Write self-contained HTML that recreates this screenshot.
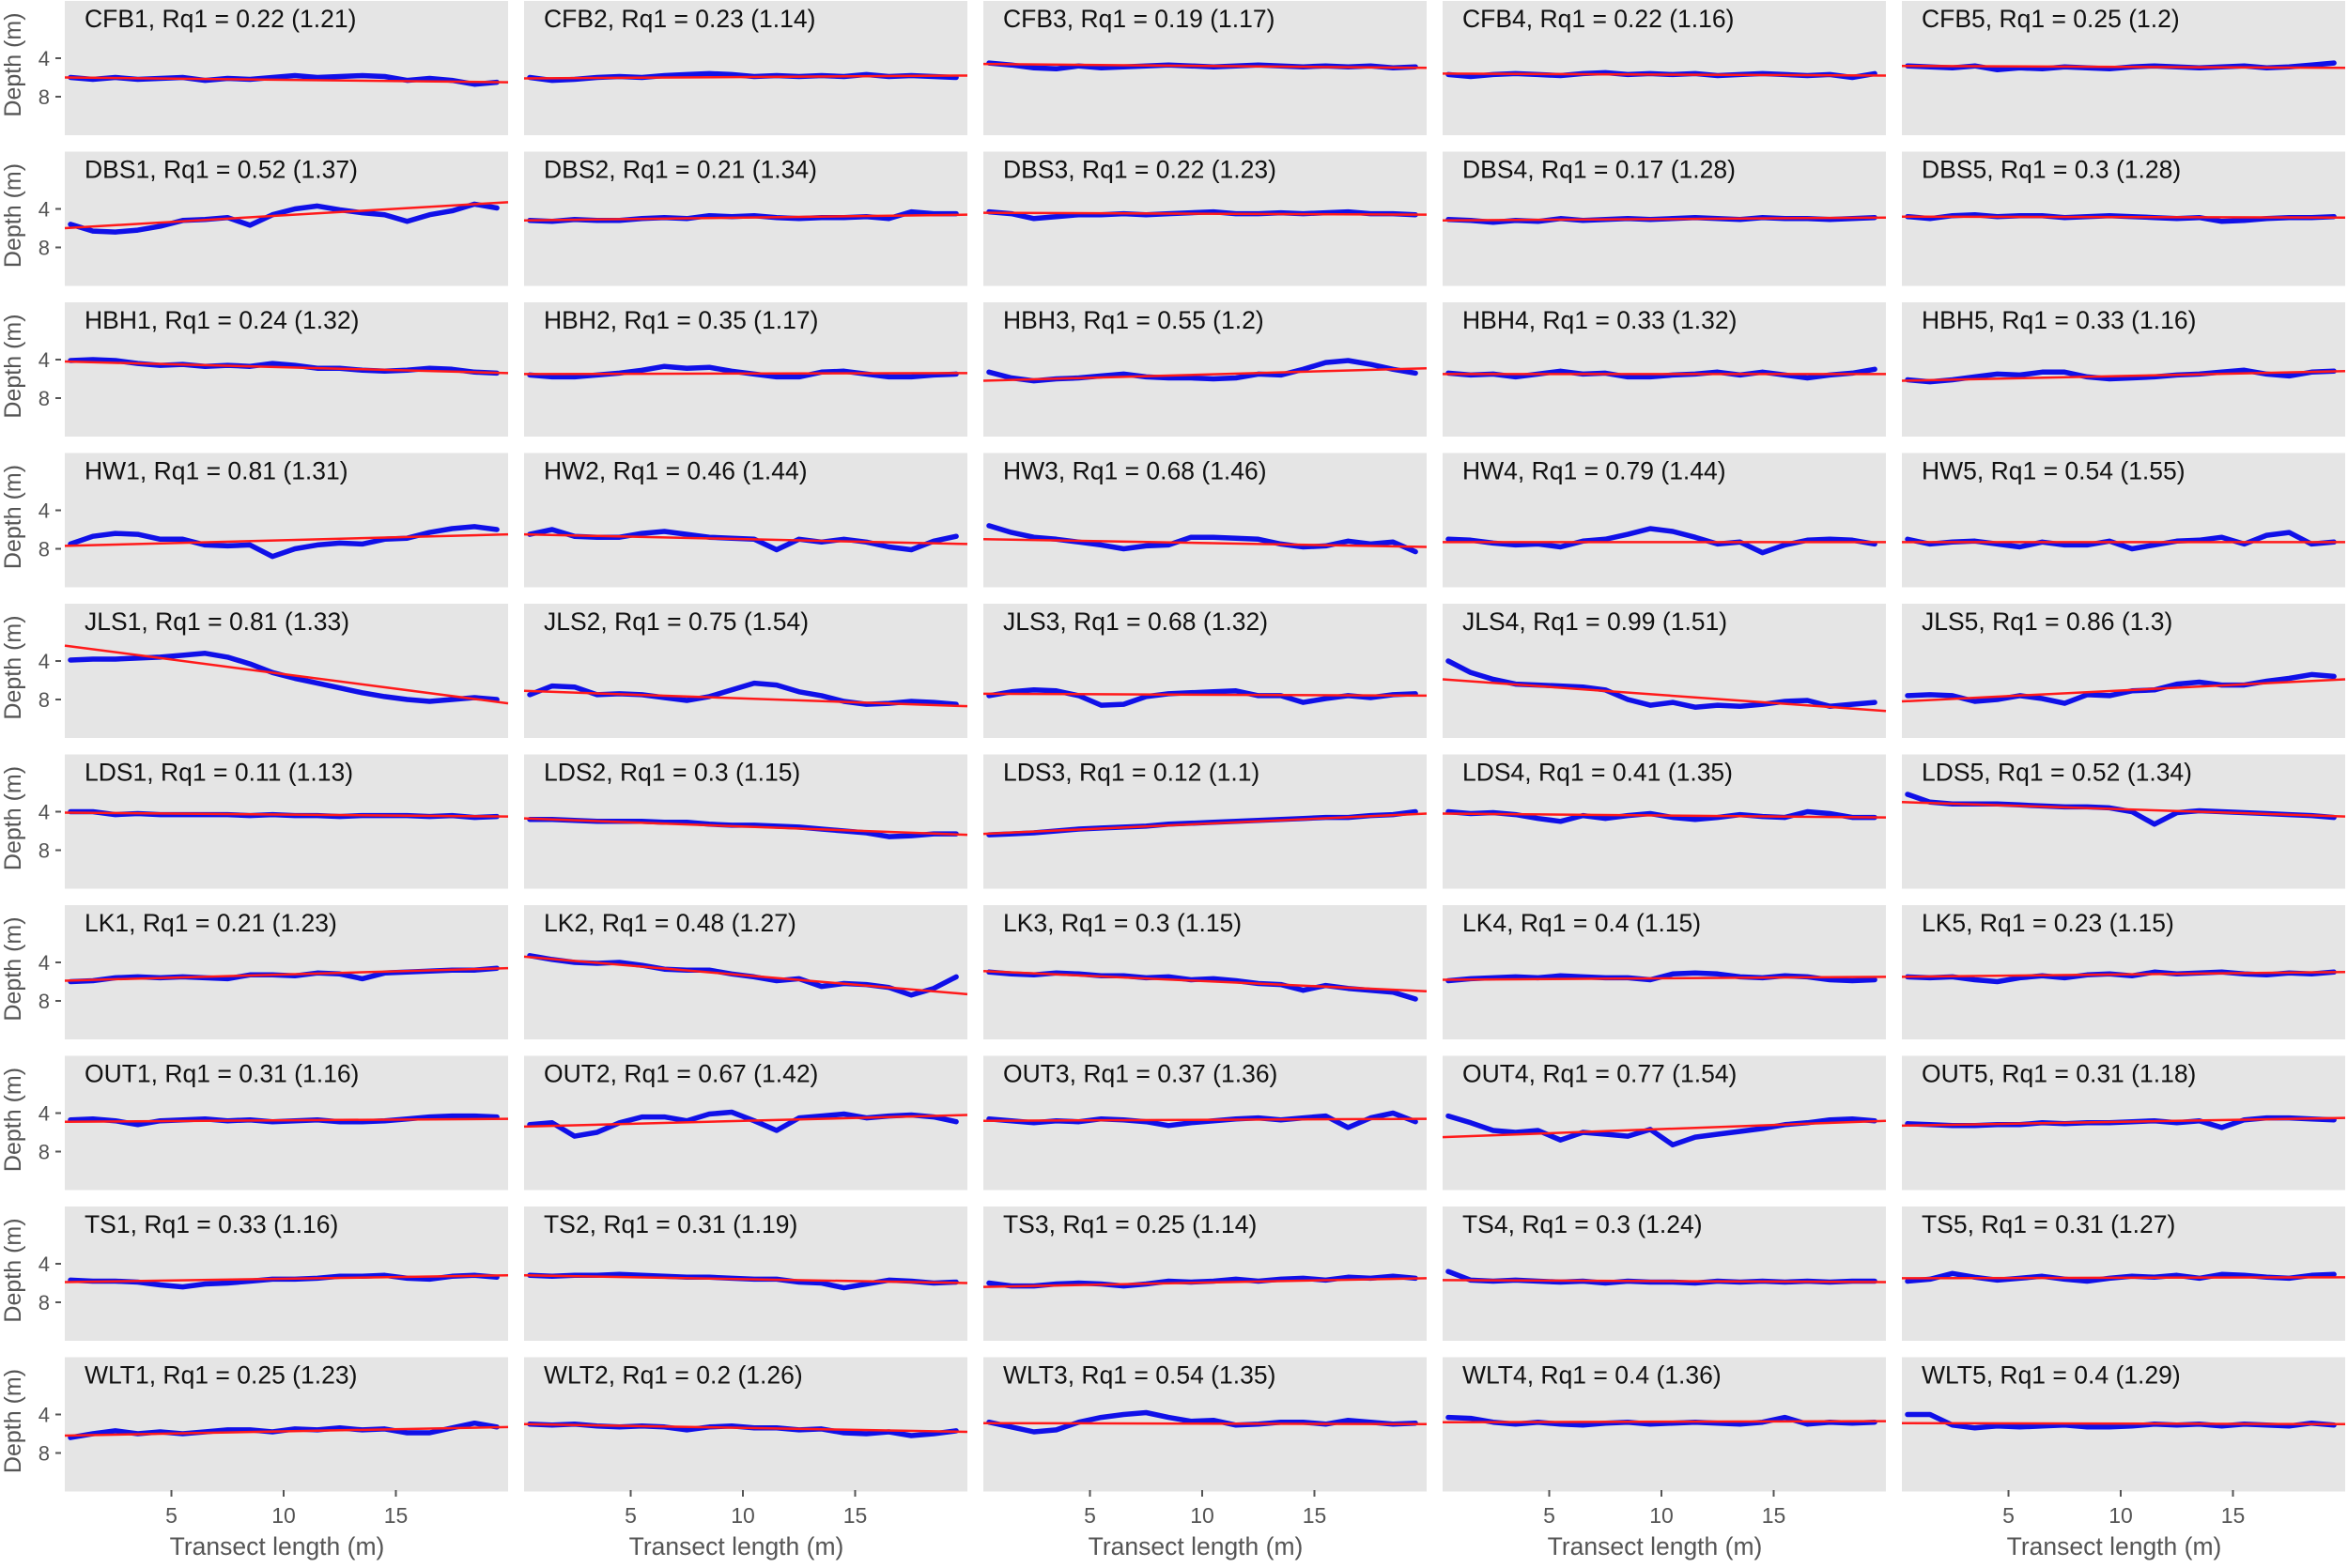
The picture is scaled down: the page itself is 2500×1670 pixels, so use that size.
<!DOCTYPE html>
<html><head><meta charset="utf-8"><style>
html,body{margin:0;padding:0;background:#fff;}
svg{display:block;}
text{font-family:"Liberation Sans","DejaVu Sans",sans-serif;}
</style></head><body>
<svg id="chart" width="2500" height="1670" xmlns="http://www.w3.org/2000/svg"></svg>
<script>
const sites = ["CFB","DBS","HBH","HW","JLS","LDS","LK","OUT","TS","WLT"];
const rq1 = [
 ["0.22 (1.21)","0.23 (1.14)","0.19 (1.17)","0.22 (1.16)","0.25 (1.2)"],
 ["0.52 (1.37)","0.21 (1.34)","0.22 (1.23)","0.17 (1.28)","0.3 (1.28)"],
 ["0.24 (1.32)","0.35 (1.17)","0.55 (1.2)","0.33 (1.32)","0.33 (1.16)"],
 ["0.81 (1.31)","0.46 (1.44)","0.68 (1.46)","0.79 (1.44)","0.54 (1.55)"],
 ["0.81 (1.33)","0.75 (1.54)","0.68 (1.32)","0.99 (1.51)","0.86 (1.3)"],
 ["0.11 (1.13)","0.3 (1.15)","0.12 (1.1)","0.41 (1.35)","0.52 (1.34)"],
 ["0.21 (1.23)","0.48 (1.27)","0.3 (1.15)","0.4 (1.15)","0.23 (1.15)"],
 ["0.31 (1.16)","0.67 (1.42)","0.37 (1.36)","0.77 (1.54)","0.31 (1.18)"],
 ["0.33 (1.16)","0.31 (1.19)","0.25 (1.14)","0.3 (1.24)","0.31 (1.27)"],
 ["0.25 (1.23)","0.2 (1.26)","0.54 (1.35)","0.4 (1.36)","0.4 (1.29)"]
];
const xPositions = [0.5,1.5,2.5,3.5,4.5,5.5,6.5,7.5,8.5,9.5,10.5,11.5,12.5,13.5,14.5,15.5,16.5,17.5,18.5,19.5];
const xTicks = [5,10,15];
const yTicks = [4,8];
const trendStartEnd = [
 [[6.0,6.5],[6.1,5.8],[4.6,5.0],[5.6,5.8],[4.8,5.0]],
 [[6.0,3.3],[5.2,4.6],[4.4,4.6],[5.2,4.9],[4.8,4.9]],
 [[4.2,5.4],[5.5,5.4],[6.2,4.9],[5.5,5.5],[6.2,5.2]],
 [[7.7,6.5],[6.5,7.5],[7.0,7.8],[7.3,7.3],[7.3,7.3]],
 [[2.4,8.4],[7.1,8.7],[7.4,7.6],[5.9,9.2],[8.2,5.9]],
 [[4.1,4.5],[4.7,6.4],[6.3,4.2],[4.2,4.6],[3.0,4.5]],
 [[5.9,4.6],[3.4,7.3],[4.9,7.0],[5.8,5.5],[5.5,5.0]],
 [[4.9,4.6],[5.4,4.2],[4.8,4.6],[6.5,4.8],[5.3,4.5]],
 [[5.9,5.2],[5.2,6.0],[6.4,5.5],[5.7,5.9],[5.5,5.4]],
 [[6.2,5.3],[5.0,5.8],[4.9,5.0],[4.8,4.7],[4.9,5.0]]
];
const cfbDepth = [
 [6,6.2,6,6.2,6.1,6,6.3,6.1,6.2,6.0,5.8,6.0,5.9,5.8,5.9,6.3,6.1,6.3,6.7,6.5],
 [6,6.3,6.2,6,5.9,6,5.8,5.7,5.6,5.7,5.9,5.8,5.9,5.8,5.9,5.7,5.9,5.8,5.9,6.0],
 [4.5,4.7,5,5.1,4.8,5,4.9,4.8,4.7,4.8,4.9,4.8,4.7,4.8,4.9,4.8,4.9,4.8,5,4.9],
 [5.7,5.9,5.7,5.6,5.7,5.8,5.6,5.5,5.7,5.6,5.7,5.6,5.8,5.7,5.6,5.7,5.8,5.7,6.0,5.6],
 [4.8,4.9,5.0,4.8,5.2,5.0,5.1,4.9,5.0,5.1,4.9,4.8,4.9,5.0,4.9,4.8,5.0,4.9,4.7,4.5]];
const dbsDepth = [
 [5.6,6.3,6.4,6.2,5.8,5.2,5.1,4.9,5.7,4.6,4.0,3.7,4.1,4.4,4.6,5.3,4.6,4.2,3.5,3.9],
 [5.2,5.3,5.1,5.2,5.2,5.0,4.9,5.0,4.7,4.8,4.7,4.9,5.0,4.9,4.9,4.8,5.0,4.3,4.5,4.5],
 [4.3,4.5,5.0,4.8,4.6,4.6,4.5,4.6,4.5,4.4,4.3,4.5,4.5,4.4,4.5,4.4,4.3,4.5,4.5,4.6],
 [5.1,5.2,5.4,5.2,5.3,5.0,5.2,5.1,5.0,5.1,5.0,4.9,5.0,5.1,4.9,5.0,5.0,5.1,5.0,4.9],
 [4.8,5.0,4.7,4.6,4.8,4.7,4.7,4.9,4.8,4.7,4.8,4.9,5.0,4.9,5.3,5.2,5.0,4.9,4.9,4.8]];
const hbhDepth = [
 [4.1,4.0,4.1,4.4,4.6,4.5,4.7,4.6,4.7,4.4,4.6,4.9,4.9,5.1,5.2,5.1,4.9,5.0,5.3,5.4],
 [5.6,5.8,5.8,5.6,5.4,5.1,4.7,4.9,4.8,5.2,5.5,5.8,5.8,5.3,5.2,5.5,5.8,5.8,5.6,5.5],
 [5.3,5.9,6.2,6.0,5.9,5.7,5.5,5.8,5.9,5.9,6.0,5.9,5.5,5.6,5.0,4.3,4.1,4.5,5.0,5.4],
 [5.4,5.6,5.5,5.8,5.5,5.2,5.5,5.4,5.8,5.8,5.6,5.5,5.3,5.6,5.3,5.6,5.9,5.6,5.4,5.0],
 [6.1,6.3,6.1,5.8,5.5,5.6,5.3,5.3,5.8,6.0,5.9,5.8,5.6,5.5,5.3,5.1,5.5,5.7,5.3,5.2]];
const hwDepth = [
 [7.5,6.7,6.4,6.5,7.0,7.0,7.6,7.7,7.6,8.8,8.0,7.6,7.4,7.5,7.0,6.9,6.3,5.9,5.7,6.0],
 [6.5,6.0,6.7,6.8,6.8,6.4,6.2,6.5,6.8,6.9,7.0,8.1,7.0,7.3,7.0,7.3,7.8,8.1,7.2,6.7],
 [5.6,6.3,6.8,7.0,7.3,7.6,8.0,7.7,7.6,6.8,6.8,6.9,7.0,7.5,7.8,7.7,7.2,7.5,7.3,8.3],
 [7.0,7.1,7.4,7.6,7.5,7.8,7.2,7.0,6.5,5.9,6.2,6.8,7.5,7.3,8.4,7.6,7.1,7.0,7.1,7.5],
 [7.0,7.5,7.3,7.2,7.5,7.8,7.3,7.6,7.6,7.2,8.0,7.6,7.2,7.1,6.8,7.5,6.6,6.3,7.5,7.3]];
const jlsDepth = [
 [3.9,3.8,3.8,3.7,3.6,3.4,3.2,3.6,4.3,5.2,5.8,6.3,6.8,7.3,7.7,8.0,8.2,8.0,7.8,8.0],
 [7.5,6.6,6.7,7.5,7.4,7.5,7.8,8.1,7.7,7.0,6.3,6.5,7.2,7.6,8.2,8.5,8.4,8.2,8.3,8.5],
 [7.6,7.2,7.0,7.1,7.6,8.6,8.5,7.7,7.4,7.3,7.2,7.1,7.6,7.6,8.3,7.9,7.6,7.8,7.5,7.4],
 [4.0,5.2,5.9,6.4,6.5,6.6,6.7,7.0,8.0,8.6,8.3,8.8,8.6,8.7,8.5,8.2,8.1,8.7,8.5,8.3],
 [7.6,7.5,7.6,8.2,8.0,7.6,7.9,8.4,7.5,7.6,7.1,7.0,6.4,6.2,6.5,6.5,6.1,5.8,5.4,5.6]];
const ldsDepth = [
 [4.0,4.0,4.3,4.2,4.3,4.3,4.3,4.3,4.4,4.3,4.4,4.4,4.5,4.4,4.4,4.4,4.5,4.4,4.6,4.5],
 [4.8,4.8,4.9,5.0,5.0,5.0,5.1,5.1,5.3,5.4,5.4,5.5,5.6,5.8,6.0,6.2,6.6,6.5,6.3,6.3],
 [6.4,6.3,6.2,6.0,5.8,5.7,5.6,5.5,5.3,5.2,5.1,5.0,4.9,4.8,4.7,4.6,4.6,4.4,4.3,4.0],
 [4.0,4.2,4.1,4.3,4.7,5.0,4.4,4.7,4.4,4.2,4.6,4.8,4.6,4.3,4.5,4.6,4.0,4.2,4.6,4.6],
 [2.2,3.0,3.2,3.2,3.2,3.3,3.4,3.5,3.5,3.6,4.0,5.3,4.1,3.9,4.0,4.1,4.2,4.3,4.4,4.6]];
const lkDepth = [
 [6.0,5.9,5.6,5.5,5.6,5.5,5.6,5.7,5.3,5.3,5.4,5.1,5.2,5.7,5.1,5.0,4.9,4.8,4.8,4.6],
 [3.3,3.7,4.0,4.1,4.0,4.3,4.7,4.8,4.8,5.2,5.5,5.9,5.7,6.5,6.2,6.3,6.6,7.4,6.7,5.5],
 [5.0,5.2,5.3,5.1,5.2,5.4,5.4,5.6,5.5,5.8,5.7,5.9,6.2,6.3,6.9,6.4,6.7,6.9,7.1,7.8],
 [5.9,5.7,5.6,5.5,5.6,5.4,5.5,5.6,5.6,5.8,5.2,5.1,5.2,5.5,5.6,5.4,5.5,5.8,5.9,5.8],
 [5.5,5.6,5.5,5.8,6.0,5.6,5.4,5.6,5.3,5.2,5.4,5.0,5.2,5.1,5.0,5.2,5.3,5.1,5.2,5.0]];
const outDepth = [
 [4.7,4.6,4.8,5.2,4.8,4.7,4.6,4.8,4.7,4.9,4.8,4.7,4.9,4.9,4.8,4.6,4.4,4.3,4.3,4.4],
 [5.2,5.0,6.4,6.0,5.0,4.4,4.4,4.8,4.1,3.9,4.8,5.8,4.5,4.3,4.1,4.5,4.3,4.2,4.4,4.9],
 [4.6,4.8,5.0,4.8,4.9,4.6,4.7,4.9,5.3,5.0,4.8,4.6,4.5,4.7,4.5,4.3,5.5,4.5,4.0,4.9],
 [4.3,5.0,5.8,6.0,5.8,6.8,6.0,6.2,6.4,5.7,7.3,6.5,6.2,5.9,5.6,5.2,5.0,4.7,4.6,4.8],
 [5.1,5.2,5.3,5.3,5.2,5.2,5.0,5.1,5.0,5.0,4.9,4.8,5.0,4.8,5.5,4.7,4.5,4.5,4.6,4.7]];
const tsDepth = [
 [5.7,5.8,5.8,5.9,6.2,6.4,6.1,6.0,5.8,5.6,5.6,5.5,5.3,5.3,5.2,5.5,5.6,5.3,5.2,5.4],
 [5.2,5.3,5.2,5.2,5.1,5.2,5.3,5.4,5.4,5.5,5.6,5.6,5.9,6.0,6.5,6.1,5.7,5.8,6.0,5.9],
 [6.0,6.3,6.3,6.1,6.0,6.1,6.3,6.1,5.8,5.9,5.8,5.6,5.8,5.6,5.5,5.7,5.4,5.5,5.3,5.5],
 [4.8,5.7,5.8,5.7,5.8,5.9,5.8,6.0,5.8,5.9,5.9,6.0,5.8,5.9,5.8,5.9,5.8,5.9,5.8,5.8],
 [5.8,5.6,5.0,5.4,5.7,5.5,5.3,5.6,5.8,5.5,5.3,5.4,5.2,5.5,5.1,5.2,5.4,5.5,5.2,5.1]];
const wltDepth = [
 [6.4,6.0,5.7,6.0,5.8,6.0,5.8,5.6,5.6,5.8,5.5,5.6,5.4,5.6,5.5,5.9,5.9,5.4,4.9,5.3],
 [5.0,5.1,5.0,5.2,5.3,5.2,5.3,5.6,5.3,5.2,5.4,5.4,5.6,5.5,5.9,6.0,5.8,6.2,6.0,5.7],
 [4.8,5.3,5.8,5.6,4.8,4.3,4.0,3.8,4.3,4.7,4.6,5.1,5.0,4.8,4.8,5.0,4.6,4.8,5.0,4.9],
 [4.3,4.4,4.8,5.0,4.8,5.0,5.1,4.9,4.8,5.0,4.9,4.8,4.9,5.0,4.8,4.3,5.0,4.8,4.9,4.8],
 [4.0,4.0,5.1,5.4,5.2,5.3,5.2,5.1,5.3,5.3,5.2,5.0,5.1,5.0,5.2,5.0,5.1,5.2,4.9,5.1]];
const depthRows = [cfbDepth,dbsDepth,hbhDepth,hwDepth,jlsDepth,ldsDepth,lkDepth,outDepth,tsDepth,wltDepth];

const NS = "http://www.w3.org/2000/svg";
const svg = document.getElementById('chart');
const colLeft = [69,558,1047,1536,2025];
const panelW = 472, panelH = 143, rowPitch = 160.5;
const xMin = 0.25, xMax = 20;
function xScale(c, x){ return colLeft[c] + (x - xMin) / (xMax - xMin) * panelW; }
function yScale(r, d){ return r*rowPitch + 62 + (d - 4) * 10.25; }
function mk(tag, attrs, parent){
  const e = document.createElementNS(NS, tag);
  for (const k in attrs) e.setAttribute(k, attrs[k]);
  (parent||svg).appendChild(e);
  return e;
}

for (let r = 0; r < 10; r++) {
  const top = r*rowPitch + 1;
  const yt = mk('text', {x:0, y:0, 'font-size':25, fill:'#555', 'text-anchor':'middle',
    transform:`translate(22,${top+68}) rotate(-90)`});
  
  
  yt.textContent = 'Depth (m)';
  yTicks.forEach(t => {
    const ty = yScale(r, t);
    const tl = mk('text', {x:53, y:ty+8, 'font-size':22, fill:'#555', 'text-anchor':'end'});
    
    
    tl.textContent = t;
    const tm = mk('line', {x1:59, x2:65, y1:ty, y2:ty, stroke:'#555', 'stroke-width':2});
    
    
  });
  for (let c = 0; c < 5; c++) {
    const g = mk('g', {});
    
    
    const bg = mk('rect', {x:colLeft[c], y:top, width:panelW, height:panelH, fill:'#e5e5e5'}, g);
    
    
    const title = mk('text', {x:colLeft[c]+21, y:top+28, 'font-size':26.5, fill:'#111'}, g);
    
    
    title.textContent = sites[r] + (c+1) + ', Rq1 = ' + rq1[r][c];
    const vals = depthRows[r][c];
    let d = '';
    vals.forEach((v,i) => { d += (i ? 'L' : 'M') + xScale(c, xPositions[i]).toFixed(1) + ',' + yScale(r, v).toFixed(1); });
    const prof = mk('path', {d, fill:'none', stroke:'#1010e8', 'stroke-width':5.5, 'stroke-linejoin':'round', 'stroke-linecap':'round'}, g);
    
    
    const tr = trendStartEnd[r][c];
    const trend = mk('line', {x1:xScale(c, xMin), y1:yScale(r, tr[0]), x2:xScale(c, xMax), y2:yScale(r, tr[1]), stroke:'#ff1a1a', 'stroke-width':2.5}, g);
    
    
    if (r === 9) {
      xTicks.forEach(t => {
        const tx = xScale(c, t);
        const m = mk('line', {x1:tx, x2:tx, y1:1587, y2:1594, stroke:'#555', 'stroke-width':2});
        
        
        const l = mk('text', {x:tx, y:1622, 'font-size':23, fill:'#555', 'text-anchor':'middle'});
        
        
        l.textContent = t;
      });
      const xl = mk('text', {x:colLeft[c]+panelW/2 - 10, y:1656, 'font-size':26.5, fill:'#555', 'text-anchor':'middle'});
      
      
      xl.textContent = 'Transect length (m)';
    }
  }
}
</script>
</body></html>
